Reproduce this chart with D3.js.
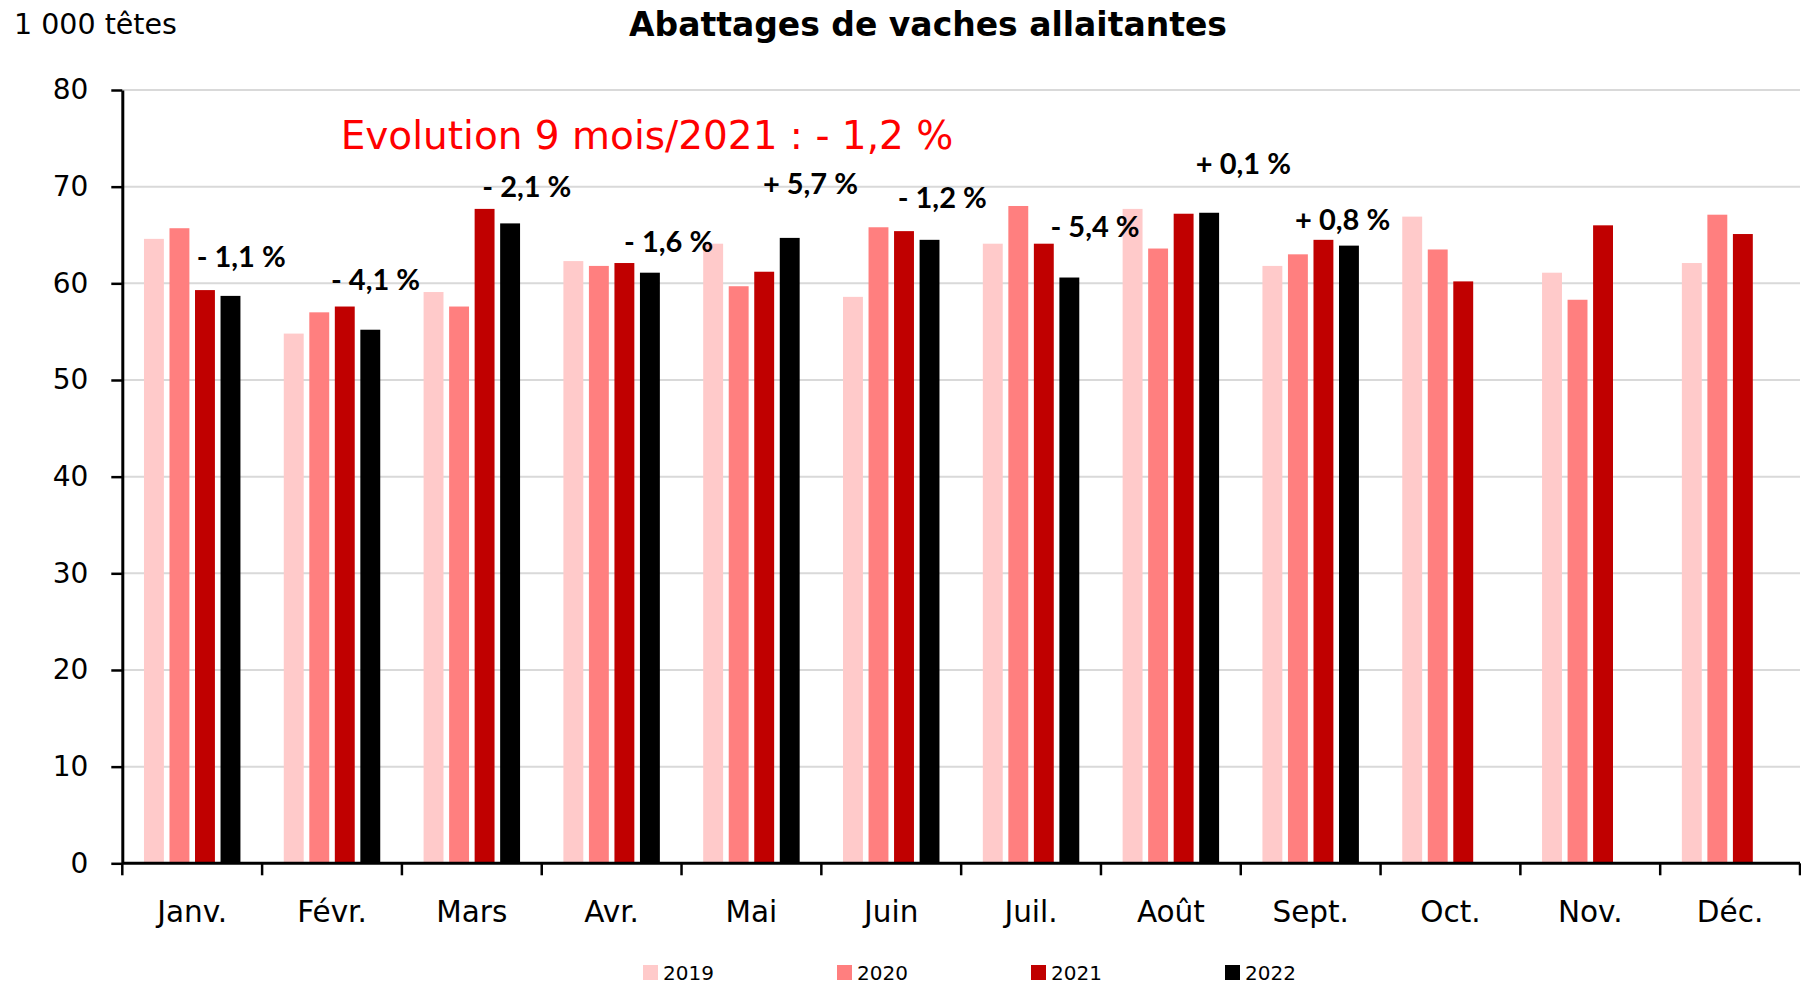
<!DOCTYPE html>
<html>
<head>
<meta charset="utf-8">
<script src="https://cdn.jsdelivr.net/npm/d3@7"></script>
<style>
  html, body { margin: 0; padding: 0; background: #fff; }
  svg { display: block; font-family: "DejaVu Sans", sans-serif; }
</style>
</head>
<body>
<svg id="chart" width="1801" height="984"></svg>
<script>
// ---------------- DATA ----------------
const months = ["Janv.", "Févr.", "Mars", "Avr.", "Mai", "Juin", "Juil.", "Août", "Sept.", "Oct.", "Nov.", "Déc."];
const seriesNames = ["2019", "2020", "2021", "2022"];
const values2019 = [64.6, 54.8, 59.1, 62.3, 64.1, 58.6, 64.1, 67.7, 61.8, 66.9, 61.1, 62.1];
const values2020 = [65.7, 57.0, 57.6, 61.8, 59.7, 65.8, 68.0, 63.6, 63.0, 63.5, 58.3, 67.1];
const values2021 = [59.3, 57.6, 67.7, 62.1, 61.2, 65.4, 64.1, 67.2, 64.5, 60.2, 66.0, 65.1];
const values2022 = [58.7, 55.2, 66.2, 61.1, 64.7, 64.5, 60.6, 67.3, 63.9, null, null, null];
const evolutionLabels = ["- 1,1 %", "- 4,1 %", "- 2,1 %", "- 1,6 %", "+ 5,7 %", "- 1,2 %", "- 5,4 %", "+ 0,1 %", "+ 0,8 %"];
const yTicks = [0, 10, 20, 30, 40, 50, 60, 70, 80];
const titleText = "Abattages de vaches allaitantes";
const unitText = "1 000 têtes";
const noteText = "Evolution 9 mois/2021 : - 1,2 %";

// ---------------- LAYOUT / STYLE ----------------
const colors = { "2019": "#ffcaca", "2020": "#ff7f7f", "2021": "#c00000", "2022": "#000000" };
// annotation placement: [x offset from month centre in px, baseline in axis units]
const labelPlacement = [[49, 61.7], [43.5, 59.3], [55, 68.9], [57, 63.2], [59, 69.2], [51, 67.8], [64, 64.8], [72.5, 71.3], [32, 65.5]];

const plotLeft = 122.3, plotRight = 1800, plotTop = 90, plotBottom = 863.3;
const svg = d3.select("#chart");

const seriesValues = { "2019": values2019, "2020": values2020, "2021": values2021, "2022": values2022 };

const x0 = d3.scaleBand().domain(months).range([plotLeft, plotRight]).paddingInner(0.31).paddingOuter(0.155);
const x1 = d3.scaleBand().domain(seriesNames).range([0, x0.bandwidth()]).paddingInner(0.22).paddingOuter(0);
const y = d3.scaleLinear().domain([0, 80]).range([plotBottom, plotTop]);

// gridlines
svg.append("g").selectAll("line").data(yTicks.filter(d => d > 0)).join("line")
  .attr("x1", plotLeft).attr("x2", plotRight)
  .attr("y1", d => y(d)).attr("y2", d => y(d))
  .attr("stroke", "#d9d9d9").attr("stroke-width", 2);

// bars
const groups = svg.append("g").selectAll("g").data(months).join("g")
  .attr("transform", d => `translate(${x0(d)},0)`);
groups.selectAll("rect")
  .data((m, i) => seriesNames.map(s => ({ s, v: seriesValues[s][i] })).filter(d => d.v != null))
  .join("rect")
  .attr("x", d => x1(d.s))
  .attr("width", x1.bandwidth())
  .attr("y", d => y(d.v))
  .attr("height", d => y(0) - y(d.v))
  .attr("fill", d => colors[d.s]);

// y axis
const yAxis = d3.axisLeft(y).tickValues(yTicks).tickSize(11).tickPadding(23).tickSizeOuter(0);
const gy = svg.append("g").attr("transform", `translate(${plotLeft},0)`).call(yAxis);
gy.select(".domain").attr("stroke", "#000").attr("stroke-width", 3);
gy.selectAll(".tick line").attr("stroke", "#000").attr("stroke-width", 2.5);
gy.selectAll(".tick text").attr("font-size", 28).attr("fill", "#000").attr("font-family", "DejaVu Sans, sans-serif");

// x axis
const xAxis = d3.axisBottom(x0).tickSize(0).tickPadding(38).tickSizeOuter(0);
const gx = svg.append("g").attr("transform", `translate(0,${plotBottom})`).call(xAxis);
gx.select(".domain").remove();
gx.selectAll(".tick text").attr("font-size", 29.5).attr("fill", "#000").attr("font-family", "DejaVu Sans, sans-serif");
svg.append("line").attr("x1", plotLeft).attr("x2", plotRight).attr("y1", plotBottom).attr("y2", plotBottom)
  .attr("stroke", "#000").attr("stroke-width", 3);
const boundaries = months.map(m => x0(m) - x0.step() * x0.paddingInner() / 2).concat([plotRight]);
svg.append("g").selectAll("line").data(boundaries).join("line")
  .attr("x1", d => d).attr("x2", d => d)
  .attr("y1", plotBottom).attr("y2", plotBottom + 12)
  .attr("stroke", "#000").attr("stroke-width", 2.5);

// evolution labels
svg.append("g").selectAll("text").data(evolutionLabels).join("text")
  .attr("x", (d, i) => x0(months[i]) + x0.bandwidth() / 2 + labelPlacement[i][0])
  .attr("y", (d, i) => y(labelPlacement[i][1]))
  .attr("text-anchor", "middle")
  .attr("font-family", "Lato, sans-serif")
  .attr("font-size", 29).attr("font-weight", "bold").attr("fill", "#000")
  .text(d => d);

// title & notes
svg.append("text").attr("x", 928).attr("y", 36).attr("text-anchor", "middle")
  .attr("font-size", 33).attr("font-weight", "bold").attr("fill", "#000").text(titleText);
svg.append("text").attr("x", 14).attr("y", 34)
  .attr("font-size", 28.5).attr("fill", "#000").text(unitText);
svg.append("text").attr("x", 647).attr("y", 149).attr("text-anchor", "middle")
  .attr("font-size", 39).attr("fill", "#ff0000").text(noteText);

// legend
const legend = svg.append("g").selectAll("g").data(seriesNames).join("g")
  .attr("transform", (d, i) => `translate(${643 + i * 194},965)`);
legend.append("rect").attr("width", 15).attr("height", 15).attr("fill", d => colors[d]);
legend.append("text").attr("x", 20).attr("y", 15).attr("font-size", 20).attr("fill", "#000").text(d => d);
</script>
</body>
</html>
